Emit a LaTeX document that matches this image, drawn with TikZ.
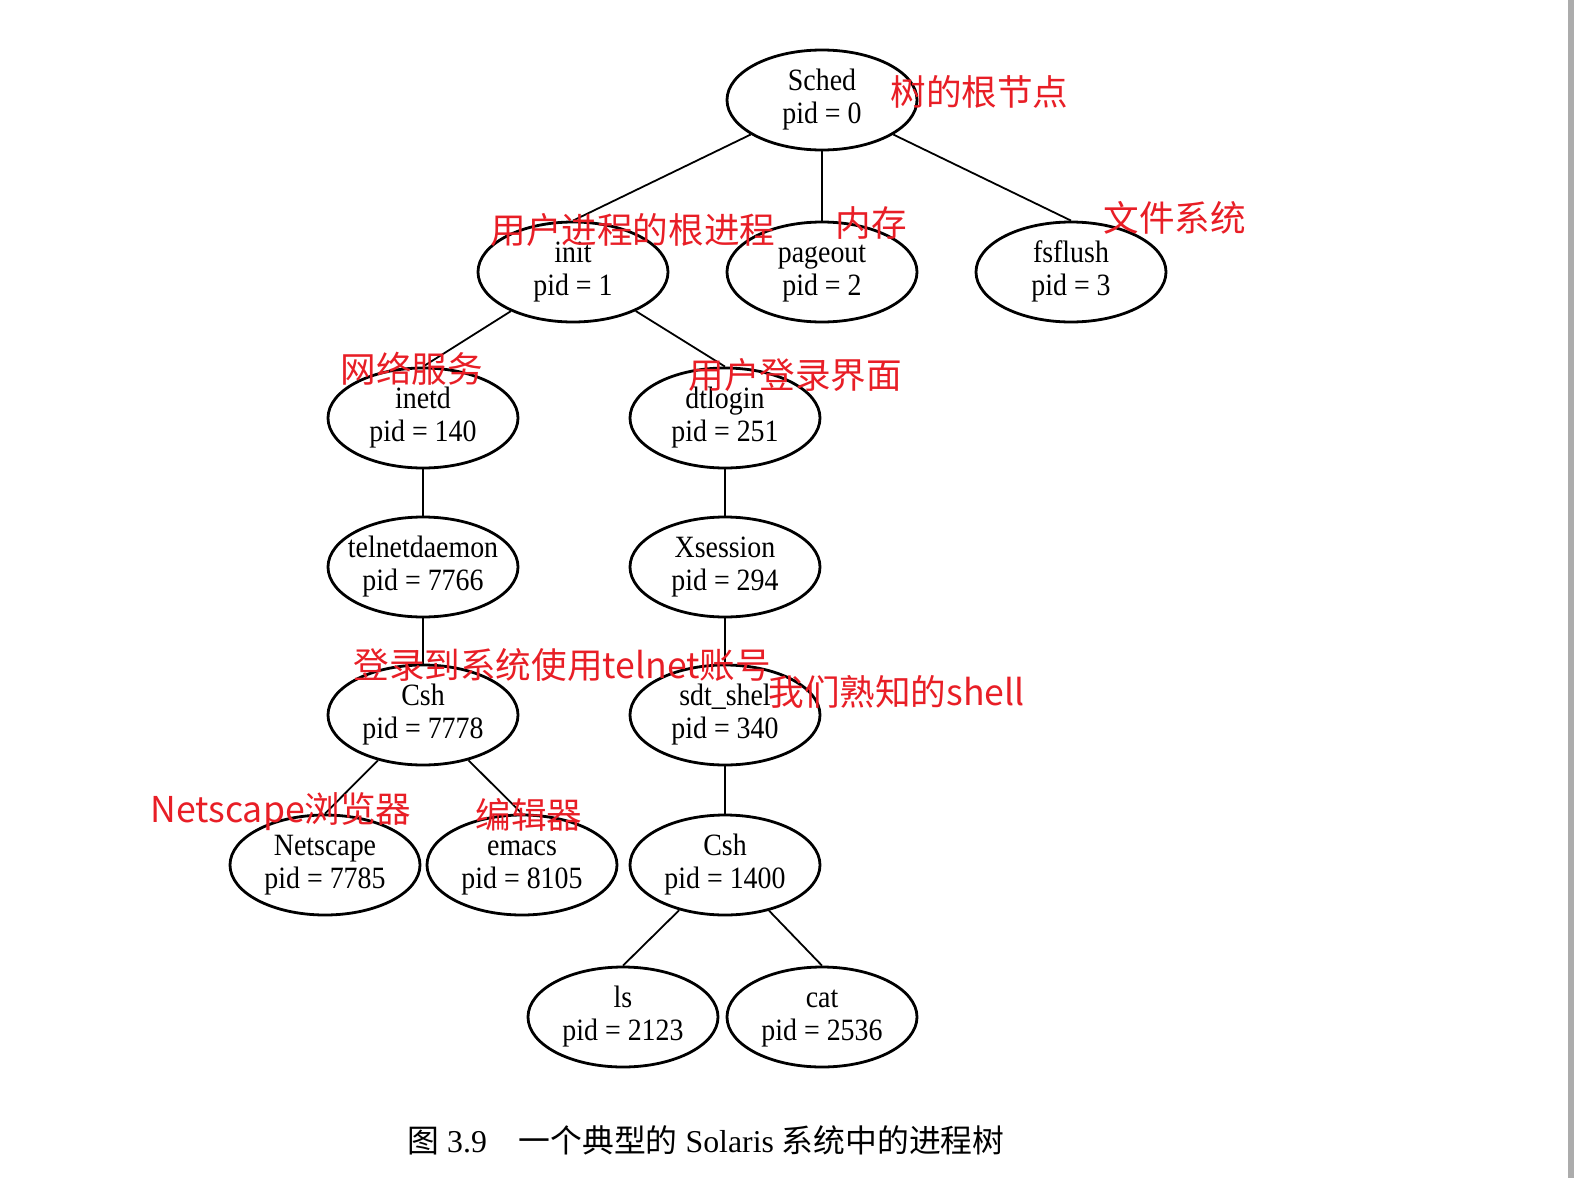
\documentclass[tikz,border=0pt]{standalone}
\usepackage{fontspec}
\usepackage{xcolor}
\setmainfont{Liberation Serif}
\newfontfamily\cjk{Noto Sans CJK SC}
\definecolor{notered}{RGB}{232,30,38}
\newcommand{\pidtext}[2]{\makebox[0pt]{\begin{tabular}{@{}c@{}}#1\\pid = #2\end{tabular}}}

\begin{document}
\begin{tikzpicture}[x=0.5pt,y=-0.5pt,
proc/.style={ellipse,draw,line width=1.4pt,minimum width=95pt,minimum height=50pt,inner sep=0pt,font=\addfontfeature{FakeStretch=0.9}\fontsize{15.5}{16.5}\selectfont},
note/.style={notered,inner sep=0pt,font=\cjk\fontsize{17.8}{20}\selectfont},
]
\usetikzlibrary{shapes.geometric}

\useasboundingbox (0,0) rectangle (1574,1178);
%\draw[help lines,yellow,thin] (0,0) grid[step=100] (1574,1178);

\node  [proc] (sched) at (822,100){\pidtext{Sched}{0}};
\node  [proc] (init) at (573,272){\pidtext{init}{1}};
\node  [proc] (pageout) at (822,272){\pidtext{pageout}{2}};
\node  [proc] (fsflush) at (1071,272){\pidtext{fsflush}{3}};
\node  [proc] (inetd) at (423,418){\pidtext{inetd}{140}};
\node  [proc] (dtlogin) at (725,418){\pidtext{dtlogin}{251}};
\node  [proc] (telnet) at (423,567){\pidtext{telnetdaemon}{7766}};
\node  [proc] (xsession) at (725,567){\pidtext{Xsession}{294}};
\node  [proc] (cshA) at (423,715){\pidtext{Csh}{7778}};
\node  [proc] (sdt) at (725,715){\pidtext{sdt\_shel}{340}};
\node  [proc] (netscape) at (325,865){\pidtext{Netscape}{7785}};
\node  [proc] (emacs) at (522,865){\pidtext{emacs}{8105}};
\node  [proc] (cshB) at (725,865){\pidtext{Csh}{1400}};
\node  [proc] (ls) at (623,1017){\pidtext{ls}{2123}};
\node  [proc] (cat) at (822,1017){\pidtext{cat}{2536}};

\draw[line width=0.9pt](sched)--(init.north);
\draw[line width=0.9pt](sched)--(pageout.north);
\draw[line width=0.9pt](sched)--(fsflush.north);
\draw[line width=0.9pt](init)--(inetd.north);
\draw[line width=0.9pt](init)--(dtlogin.north);
\draw[line width=0.9pt](inetd)--(telnet.north);
\draw[line width=0.9pt](dtlogin)--(xsession.north);
\draw[line width=0.9pt](telnet)--(cshA.north);
\draw[line width=0.9pt](xsession)--(sdt.north);
\draw[line width=0.9pt](cshA)--(netscape.north);
\draw[line width=0.9pt](cshA)--(emacs.north);
\draw[line width=0.9pt](sdt)--(cshB.north);
\draw[line width=0.9pt](cshB)--(ls.north);
\draw[line width=0.9pt](cshB)--(cat.north);

% red notes
\node  [note,anchor=west] (nRoot) at (890,92){树的根节点};
\node  [note,anchor=west] (nInit) at (490,230){用户进程的根进程};
\node  [note,anchor=west] (nMem) at (835,223){内存};
\node  [note,anchor=west] (nFs) at (1103,218){文件系统};
\node  [note,anchor=west] (nNet) at (340,369){网络服务};
\node  [note,anchor=west] (nLogin) at (688,375){用户登录界面};
\node  [note,anchor=west] (nTelnet) at (353,665){登录到系统使用telnet账号};
\node  [note,anchor=west] (nShell) at (768,692){我们熟知的shell};
\node  [note,anchor=west] (nBrowser) at (150,812){Netscape浏览器};
\node  [note,anchor=west] (nEdit) at (475,815){编辑器};

\node  [anchor=west,inner sep=0pt,font=\fontsize{15.9}{18}\selectfont] (caption) at (407,1140){{\cjk 图}~3.9\hspace{1em}{\cjk 一个典型的}~Solaris~{\cjk 系统中的进程树}};

\fill[gray!65] (1568,0) rectangle (1574,1178);
\end{tikzpicture}
\end{document}
